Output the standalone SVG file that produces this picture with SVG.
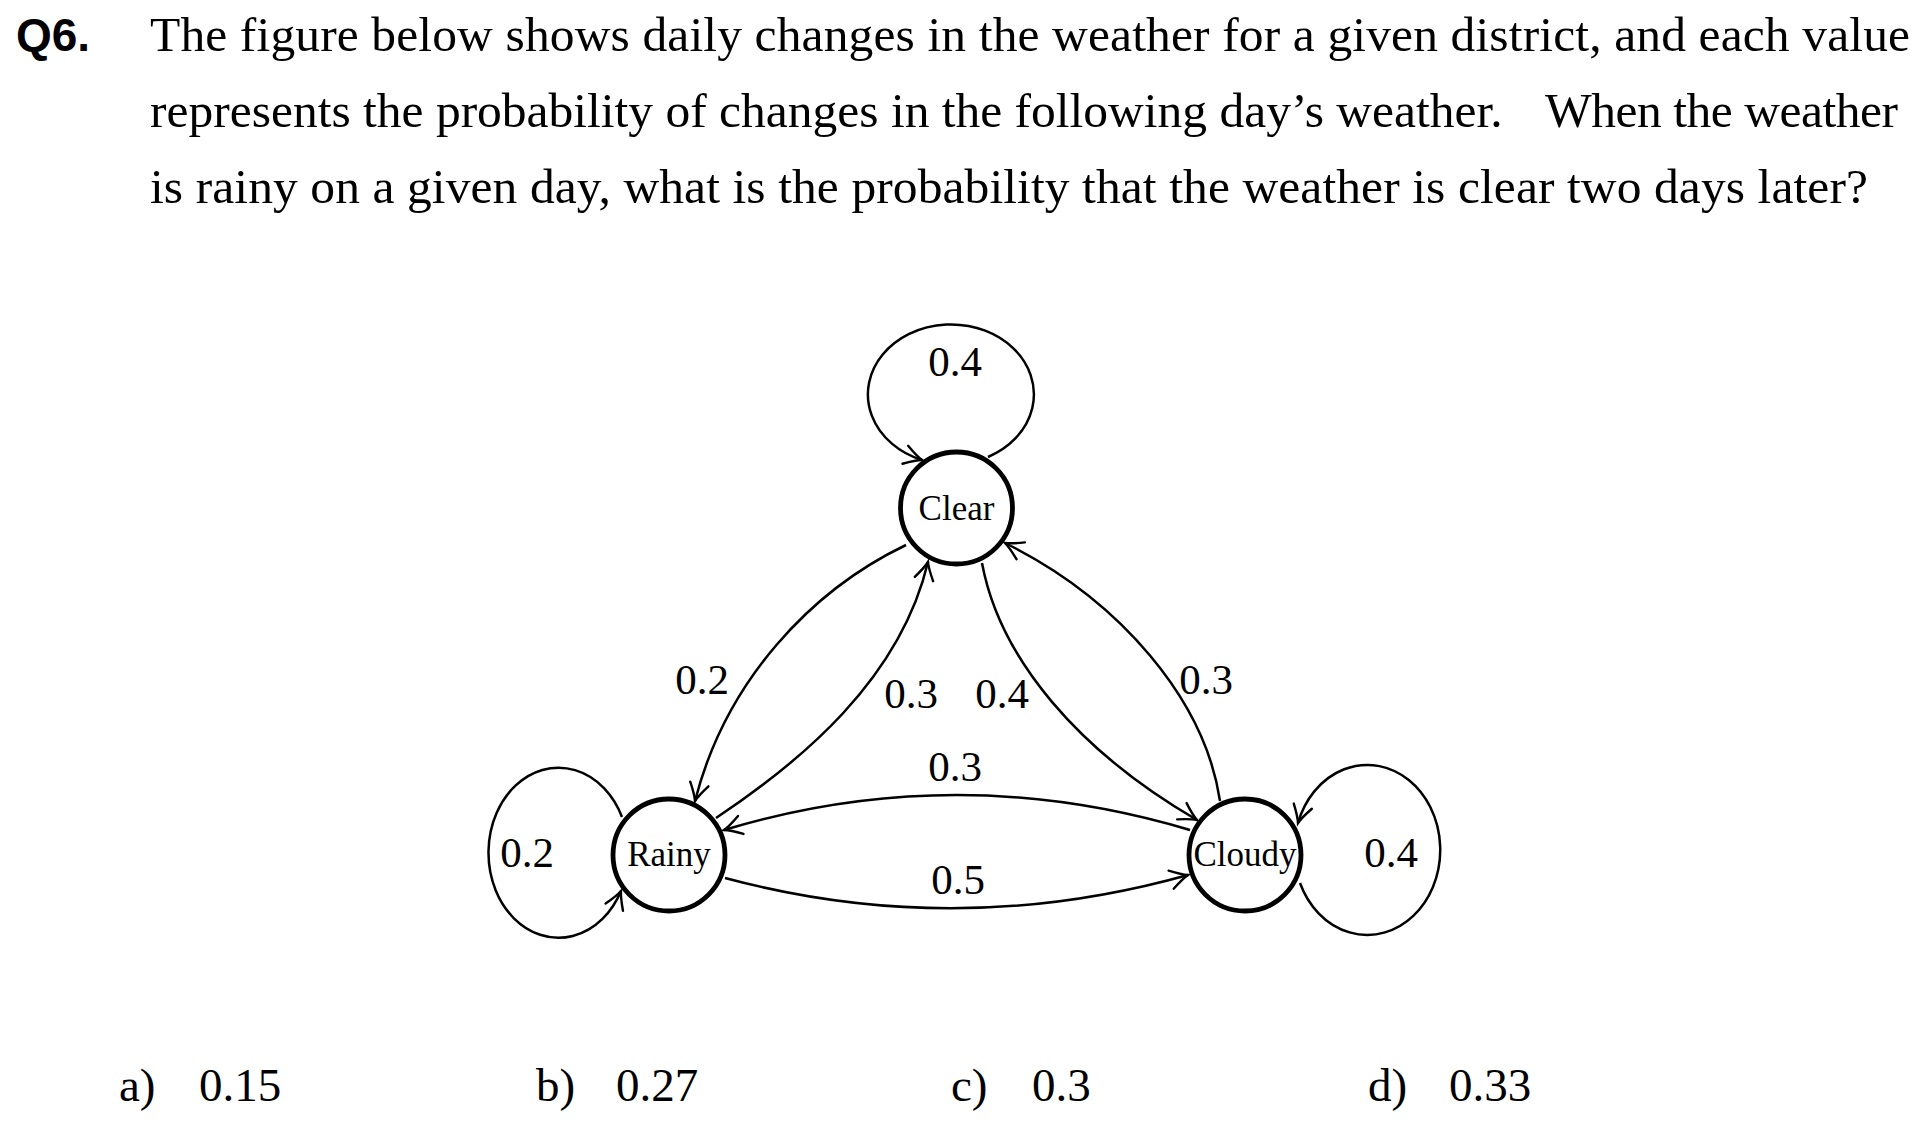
<svg xmlns="http://www.w3.org/2000/svg" width="1920" height="1128" viewBox="0 0 1920 1128">
<defs>
<marker id="arr" markerUnits="userSpaceOnUse" markerWidth="40" markerHeight="40" viewBox="-20 -20 40 40" refX="0" refY="0" orient="auto">
<path d="M -17.5 -9.4 Q -6 -2 0 0 Q -6 2 -17.5 9.4" fill="none" stroke="#000" stroke-width="2.4" stroke-linecap="round"/>
</marker>
</defs>
<style>
.q{font-family:"Liberation Serif","Times New Roman",serif;font-size:49.5px;fill:#000}
.qn{font-family:"Liberation Sans",Arial,sans-serif;font-size:46px;font-weight:bold;fill:#000}
.node{fill:#fff;stroke:#000;stroke-width:4.8}
.nl{font-family:"Liberation Serif","Times New Roman",serif;font-size:35px;fill:#000;text-anchor:middle}
.el{font-family:"Liberation Serif","Times New Roman",serif;font-size:43px;fill:#000;text-anchor:middle}
.edge{fill:none;stroke:#000;stroke-width:2.5;marker-end:url(#arr)}
.ans{font-family:"Liberation Serif","Times New Roman",serif;font-size:47px;fill:#000}
</style>
<rect width="1920" height="1128" fill="#fff"/>
<g id="question">
<text class="qn" x="16" y="51">Q6.</text>
<text class="q" x="150" y="51" textLength="1760" lengthAdjust="spacing">The figure below shows daily changes in the weather for a given district, and each value</text>
<text class="q" x="150" y="127">represents the probability of changes in the following day’s weather.</text>
<text class="q" x="1545" y="127" textLength="353" lengthAdjust="spacing">When the weather</text>
<text class="q" x="150" y="203" textLength="1718" lengthAdjust="spacing">is rainy on a given day, what is the probability that the weather is clear two days later?</text>
</g>
<g id="node-clear">
<circle class="node" cx="956.5" cy="508" r="56"/>
<text class="nl" x="956.5" y="520">Clear</text>
</g>
<g id="node-rainy">
<circle class="node" cx="669" cy="855" r="56"/>
<text class="nl" x="669" y="866">Rainy</text>
</g>
<g id="node-cloudy">
<circle class="node" cx="1245" cy="855" r="56"/>
<text class="nl" x="1245" y="866">Cloudy</text>
</g>
<g id="connectors">
<path class="edge" d="M 988 457 A 83 70 0 1 0 922 460"/>
<path class="edge" d="M 622 817 A 70 85 0 1 0 621 891"/>
<path class="edge" d="M 1300 883 A 73 85 0 1 0 1298 823"/>
<path class="edge" d="M 906 545 C 812 590, 726 680, 695 801"/>
<path class="edge" d="M 716 818 C 800 762, 900 680, 928 562"/>
<path class="edge" d="M 982 563 C 1000 660, 1080 752, 1197 820"/>
<path class="edge" d="M 1220 801 C 1205 700, 1120 600, 1005 543"/>
<path class="edge" d="M 1190 830 Q 956 760 724 830"/>
<path class="edge" d="M 725 878 Q 956 940 1188 875"/>
</g>
<g id="edge-labels">
<text class="el" x="955" y="376">0.4</text>
<text class="el" x="527" y="867">0.2</text>
<text class="el" x="1391" y="867">0.4</text>
<text class="el" x="702" y="694">0.2</text>
<text class="el" x="911" y="708">0.3</text>
<text class="el" x="1002" y="708">0.4</text>
<text class="el" x="1206" y="694">0.3</text>
<text class="el" x="955" y="781">0.3</text>
<text class="el" x="958" y="894">0.5</text>
</g>
<g id="answers">
<text class="ans" x="119" y="1101">a)</text>
<text class="ans" x="199" y="1101">0.15</text>
<text class="ans" x="536" y="1101">b)</text>
<text class="ans" x="616" y="1101">0.27</text>
<text class="ans" x="951" y="1101">c)</text>
<text class="ans" x="1032" y="1101">0.3</text>
<text class="ans" x="1368" y="1101">d)</text>
<text class="ans" x="1449" y="1101">0.33</text>
</g>
</svg>
